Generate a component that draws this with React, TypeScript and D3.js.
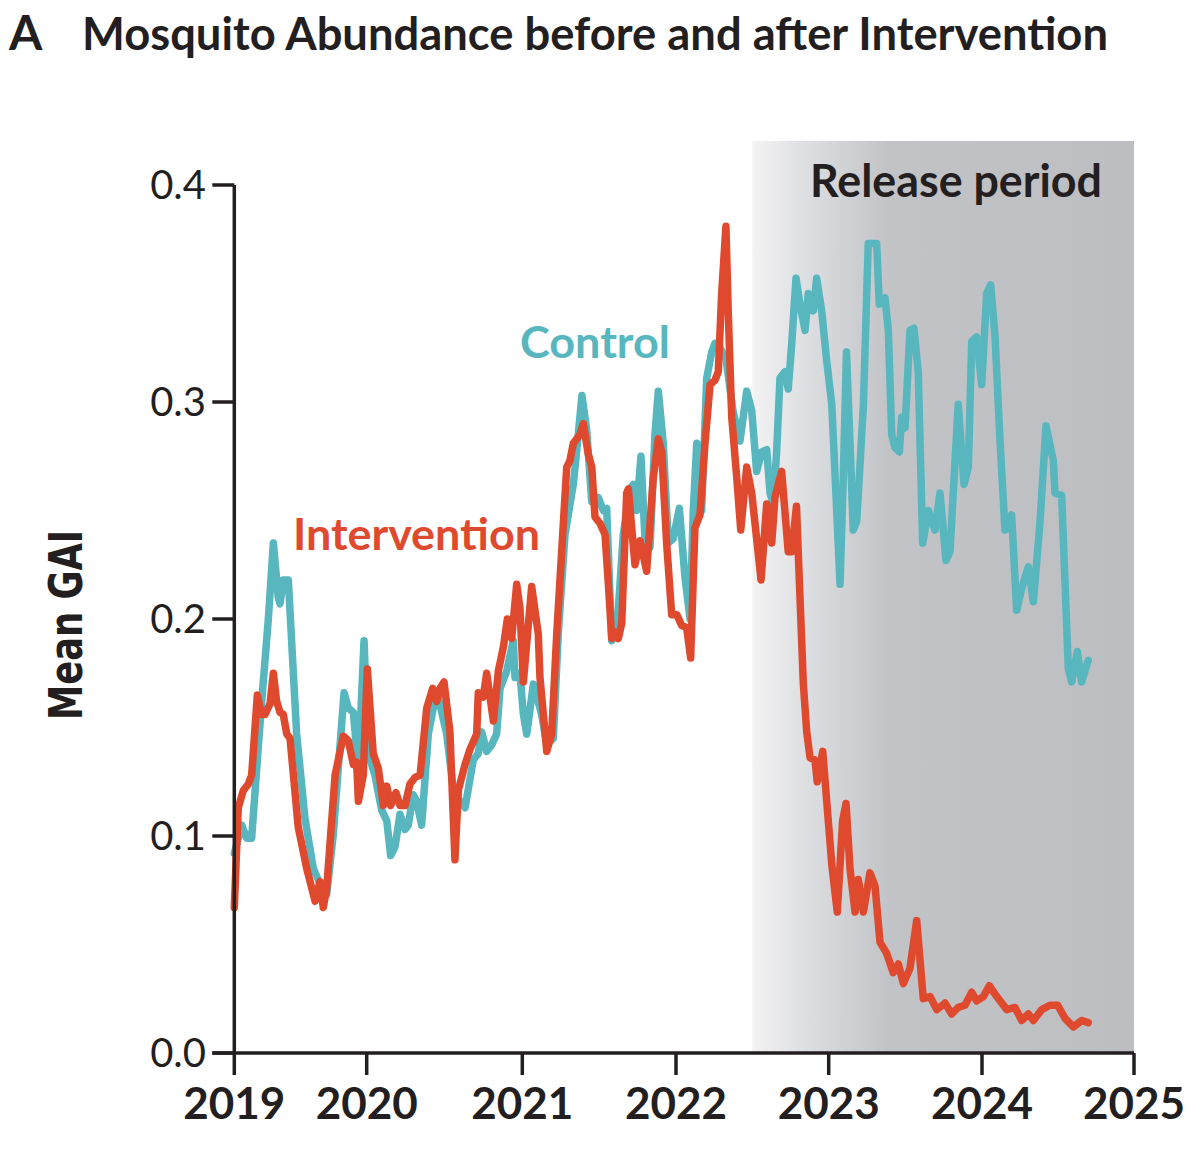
import { useMemo } from 'react';
import * as d3 from 'd3';

// Mean GAI per trap-week (decimal year, value)
const controlSeries: [number, number][] = [
  [2019.0, 0.092], [2019.056, 0.105], [2019.094, 0.099], [2019.131, 0.099], [2019.169, 0.131],
  [2019.207, 0.162], [2019.257, 0.2], [2019.295, 0.235], [2019.332, 0.21], [2019.345, 0.207],
  [2019.37, 0.218], [2019.408, 0.218], [2019.471, 0.147], [2019.534, 0.108], [2019.597, 0.085],
  [2019.647, 0.078], [2019.698, 0.073], [2019.748, 0.101], [2019.785, 0.131], [2019.829, 0.166],
  [2019.861, 0.159], [2019.899, 0.157], [2019.937, 0.131], [2019.98, 0.19], [2020.01, 0.138],
  [2020.053, 0.128], [2020.096, 0.112], [2020.129, 0.107], [2020.154, 0.091], [2020.182, 0.095],
  [2020.214, 0.11], [2020.246, 0.103], [2020.267, 0.105], [2020.299, 0.119], [2020.321, 0.116],
  [2020.353, 0.105], [2020.396, 0.147], [2020.428, 0.159], [2020.46, 0.164], [2020.514, 0.147],
  [2020.557, 0.121], [2020.6, 0.116], [2020.632, 0.113], [2020.685, 0.135], [2020.717, 0.138],
  [2020.739, 0.148], [2020.771, 0.139], [2020.803, 0.142], [2020.835, 0.147], [2020.857, 0.168],
  [2020.9, 0.176], [2020.942, 0.19], [2020.953, 0.173], [2020.985, 0.175], [2021.007, 0.156],
  [2021.029, 0.147], [2021.072, 0.17], [2021.126, 0.156], [2021.159, 0.142], [2021.202, 0.145],
  [2021.234, 0.193], [2021.278, 0.239], [2021.332, 0.262], [2021.364, 0.285], [2021.388, 0.303],
  [2021.419, 0.287], [2021.452, 0.254], [2021.494, 0.256], [2021.527, 0.25], [2021.549, 0.251],
  [2021.582, 0.19], [2021.614, 0.193], [2021.657, 0.239], [2021.701, 0.26], [2021.722, 0.262],
  [2021.744, 0.25], [2021.772, 0.275], [2021.798, 0.237], [2021.831, 0.233], [2021.863, 0.285],
  [2021.885, 0.305], [2021.917, 0.281], [2021.95, 0.235], [2021.982, 0.237], [2022.022, 0.251],
  [2022.059, 0.219], [2022.092, 0.2], [2022.113, 0.25], [2022.136, 0.281], [2022.168, 0.25],
  [2022.201, 0.311], [2022.234, 0.323], [2022.255, 0.327], [2022.288, 0.325], [2022.327, 0.32],
  [2022.373, 0.296], [2022.419, 0.282], [2022.463, 0.305], [2022.496, 0.296], [2022.528, 0.268],
  [2022.561, 0.277], [2022.594, 0.278], [2022.616, 0.258], [2022.637, 0.253], [2022.659, 0.277],
  [2022.681, 0.311], [2022.714, 0.314], [2022.735, 0.306], [2022.758, 0.327], [2022.786, 0.357],
  [2022.812, 0.345], [2022.845, 0.333], [2022.866, 0.35], [2022.899, 0.342], [2022.921, 0.357],
  [2022.954, 0.342], [2022.987, 0.319], [2023.02, 0.299], [2023.052, 0.25], [2023.074, 0.216],
  [2023.095, 0.265], [2023.116, 0.323], [2023.139, 0.281], [2023.16, 0.241], [2023.183, 0.245],
  [2023.226, 0.298], [2023.258, 0.373], [2023.291, 0.373], [2023.313, 0.373], [2023.33, 0.345],
  [2023.367, 0.348], [2023.389, 0.333], [2023.411, 0.285], [2023.432, 0.279], [2023.461, 0.277],
  [2023.476, 0.293], [2023.498, 0.288], [2023.53, 0.333], [2023.556, 0.334], [2023.584, 0.314],
  [2023.613, 0.235], [2023.65, 0.25], [2023.693, 0.241], [2023.726, 0.258], [2023.765, 0.227],
  [2023.791, 0.231], [2023.845, 0.299], [2023.883, 0.262], [2023.911, 0.27], [2023.933, 0.328],
  [2023.965, 0.33], [2023.998, 0.308], [2024.031, 0.35], [2024.057, 0.354], [2024.086, 0.33],
  [2024.118, 0.283], [2024.151, 0.241], [2024.173, 0.242], [2024.195, 0.248], [2024.228, 0.204],
  [2024.261, 0.214], [2024.305, 0.224], [2024.338, 0.208], [2024.382, 0.245], [2024.421, 0.289],
  [2024.469, 0.273], [2024.48, 0.258], [2024.524, 0.257], [2024.568, 0.177], [2024.59, 0.171],
  [2024.627, 0.185], [2024.656, 0.171], [2024.699, 0.181],
];

const interventionSeries: [number, number][] = [
  [2019.0, 0.067], [2019.03, 0.113], [2019.068, 0.121], [2019.106, 0.124], [2019.131, 0.128],
  [2019.174, 0.165], [2019.207, 0.156], [2019.232, 0.156], [2019.27, 0.161], [2019.295, 0.175],
  [2019.32, 0.162], [2019.345, 0.157], [2019.37, 0.156], [2019.396, 0.147], [2019.421, 0.145],
  [2019.483, 0.104], [2019.547, 0.085], [2019.61, 0.07], [2019.647, 0.079], [2019.672, 0.067],
  [2019.698, 0.076], [2019.761, 0.128], [2019.823, 0.146], [2019.861, 0.144], [2019.899, 0.133],
  [2019.924, 0.134], [2019.937, 0.116], [2019.974, 0.128], [2020.004, 0.177], [2020.042, 0.138],
  [2020.075, 0.131], [2020.107, 0.114], [2020.129, 0.123], [2020.154, 0.114], [2020.188, 0.12],
  [2020.214, 0.114], [2020.246, 0.114], [2020.278, 0.124], [2020.31, 0.127], [2020.343, 0.128],
  [2020.386, 0.159], [2020.424, 0.168], [2020.45, 0.162], [2020.471, 0.168], [2020.497, 0.171],
  [2020.535, 0.148], [2020.567, 0.089], [2020.589, 0.121], [2020.632, 0.133], [2020.664, 0.14],
  [2020.707, 0.147], [2020.717, 0.166], [2020.749, 0.164], [2020.771, 0.175], [2020.814, 0.153],
  [2020.846, 0.176], [2020.878, 0.187], [2020.904, 0.2], [2020.932, 0.191], [2020.964, 0.216],
  [2020.985, 0.205], [2021.007, 0.171], [2021.061, 0.215], [2021.104, 0.193], [2021.115, 0.173],
  [2021.159, 0.139], [2021.191, 0.147], [2021.224, 0.193], [2021.256, 0.231], [2021.289, 0.27],
  [2021.31, 0.273], [2021.332, 0.281], [2021.375, 0.285], [2021.397, 0.29], [2021.429, 0.276],
  [2021.452, 0.27], [2021.473, 0.247], [2021.506, 0.244], [2021.538, 0.239], [2021.56, 0.216],
  [2021.582, 0.191], [2021.603, 0.194], [2021.625, 0.191], [2021.647, 0.198], [2021.679, 0.258],
  [2021.69, 0.26], [2021.712, 0.242], [2021.733, 0.225], [2021.766, 0.236], [2021.809, 0.222],
  [2021.852, 0.265], [2021.885, 0.283], [2021.907, 0.277], [2021.939, 0.235], [2021.972, 0.202],
  [2022.005, 0.202], [2022.037, 0.197], [2022.07, 0.196], [2022.096, 0.182], [2022.124, 0.242],
  [2022.157, 0.248], [2022.19, 0.281], [2022.223, 0.308], [2022.255, 0.31], [2022.277, 0.314],
  [2022.299, 0.35], [2022.327, 0.381], [2022.342, 0.342], [2022.365, 0.293], [2022.398, 0.265],
  [2022.424, 0.241], [2022.463, 0.27], [2022.496, 0.258], [2022.528, 0.237], [2022.557, 0.218],
  [2022.594, 0.253], [2022.627, 0.235], [2022.648, 0.256], [2022.692, 0.268], [2022.735, 0.231],
  [2022.758, 0.231], [2022.789, 0.252], [2022.812, 0.21], [2022.834, 0.17], [2022.856, 0.148],
  [2022.878, 0.136], [2022.91, 0.135], [2022.925, 0.125], [2022.961, 0.139], [2022.987, 0.116],
  [2023.02, 0.087], [2023.056, 0.065], [2023.091, 0.107], [2023.113, 0.115], [2023.139, 0.085],
  [2023.172, 0.065], [2023.193, 0.08], [2023.226, 0.065], [2023.269, 0.083], [2023.302, 0.077],
  [2023.335, 0.051], [2023.378, 0.046], [2023.421, 0.037], [2023.454, 0.041], [2023.487, 0.032],
  [2023.53, 0.039], [2023.574, 0.061], [2023.617, 0.025], [2023.661, 0.026], [2023.705, 0.02],
  [2023.759, 0.023], [2023.802, 0.018], [2023.845, 0.021], [2023.889, 0.022], [2023.933, 0.028],
  [2023.965, 0.024], [2024.009, 0.026], [2024.048, 0.031], [2024.097, 0.026], [2024.163, 0.02],
  [2024.217, 0.021], [2024.261, 0.015], [2024.305, 0.018], [2024.338, 0.015], [2024.393, 0.02],
  [2024.447, 0.022], [2024.498, 0.022], [2024.546, 0.016], [2024.601, 0.012], [2024.656, 0.015],
  [2024.699, 0.014],
];

const xTicks = [2019, 2020, 2021, 2022, 2023, 2024, 2025];
// the printed year ticks are not evenly spaced; keep their pixel spacing
const xTickPositions = [234.3, 366.7, 522.3, 676, 828.7, 982, 1134];
const yTicks = [0, 0.1, 0.2, 0.3, 0.4];
const releaseStart = 2022.5;
const releaseEnd = 2025;

const INK = '#231f20';
const TEAL = '#58b6be';
const RED = '#df4a2f';
const FONT = 'Lato, "Open Sans", "DejaVu Sans", sans-serif';
const NARROW = '"Liberation Sans Narrow", "DejaVu Sans Condensed", "Roboto Condensed", sans-serif';

export default function App() {
  const width = 1200;
  const height = 1156;

  const x = useMemo(
    () => d3.scaleLinear().domain(xTicks).range(xTickPositions),
    []
  );
  const y = useMemo(() => d3.scaleLinear().domain([0, 0.4]).range([1053, 185]), []);

  const line = d3
    .line<[number, number]>()
    .x((d) => x(d[0]))
    .y((d) => y(d[1]));

  const axisLeft = x(2019);
  const axisBottom = y(0);

  return (
    <svg
      width={width}
      height={height}
      viewBox={`0 0 ${width} ${height}`}
      style={{ position: 'absolute', left: 0, top: 0, background: '#fff' }}
    >
      <defs>
        <linearGradient id="releaseFade" x1="0" x2="1" y1="0" y2="0">
          <stop offset="0%" stopColor="#f3f3f4" />
          <stop offset="15%" stopColor="#dcdde0" />
          <stop offset="36%" stopColor="#c2c3c7" />
          <stop offset="100%" stopColor="#bdbec2" />
        </linearGradient>
      </defs>

      {/* title */}
      <text x={9} y={50} fontFamily={FONT} fontWeight={700} fontSize={48} fill={INK}>
        A
      </text>
      <text
        x={82}
        y={50}
        fontFamily={FONT}
        fontWeight={700}
        fontSize={45}
        fill={INK}
        textLength={1026}
        lengthAdjust="spacingAndGlyphs"
      >
        Mosquito Abundance before and after Intervention
      </text>

      {/* release period shading */}
      <rect
        x={x(releaseStart)}
        y={141}
        width={x(releaseEnd) - x(releaseStart)}
        height={axisBottom - 141}
        fill="url(#releaseFade)"
      />
      <text
        x={810}
        y={197}
        fontFamily={FONT}
        fontWeight={700}
        fontSize={46}
        fill={INK}
        textLength={292}
        lengthAdjust="spacingAndGlyphs"
      >
        Release period
      </text>

      {/* series */}
      <path
        d={line(controlSeries) || ''}
        fill="none"
        stroke={TEAL}
        strokeWidth={7.5}
        strokeLinejoin="round"
        strokeLinecap="round"
      />
      <path
        d={line(interventionSeries) || ''}
        fill="none"
        stroke={RED}
        strokeWidth={7.5}
        strokeLinejoin="round"
        strokeLinecap="round"
      />

      {/* series labels */}
      <text
        x={520}
        y={358}
        fontFamily={FONT}
        fontWeight={700}
        fontSize={44}
        fill={TEAL}
        textLength={150}
        lengthAdjust="spacingAndGlyphs"
      >
        Control
      </text>
      <text
        x={293}
        y={550}
        fontFamily={FONT}
        fontWeight={700}
        fontSize={44}
        fill={RED}
        textLength={247}
        lengthAdjust="spacingAndGlyphs"
      >
        Intervention
      </text>

      {/* y axis */}
      <line x1={axisLeft} x2={axisLeft} y1={y(0.4)} y2={axisBottom} stroke={INK} strokeWidth={3.5} />
      {yTicks.map((t) => (
        <g key={t}>
          <line x1={axisLeft - 22} x2={axisLeft} y1={y(t)} y2={y(t)} stroke={INK} strokeWidth={3.5} />
          <text
            x={206}
            y={y(t) + 14}
            textAnchor="end"
            fontFamily={FONT}
            fontWeight={400}
            fontSize={40}
            fill={INK}
          >
            {d3.format('.1f')(t)}
          </text>
        </g>
      ))}
      <text
        transform={`translate(82, 625) rotate(-90)`}
        textAnchor="middle"
        fontFamily={NARROW}
        fontWeight={700}
        fontSize={46}
        fill={INK}
        textLength={190}
        lengthAdjust="spacingAndGlyphs"
      >
        Mean GAI
      </text>

      {/* x axis */}
      <line
        x1={axisLeft - 22}
        x2={x(2025)}
        y1={axisBottom}
        y2={axisBottom}
        stroke={INK}
        strokeWidth={3.5}
      />
      {xTicks.map((t) => (
        <g key={t}>
          <line x1={x(t)} x2={x(t)} y1={axisBottom} y2={axisBottom + 22} stroke={INK} strokeWidth={3.5} />
          <text
            x={x(t)}
            y={1119}
            textAnchor="middle"
            fontFamily={FONT}
            fontWeight={700}
            fontSize={44}
            fill={INK}
          >
            {t}
          </text>
        </g>
      ))}
    </svg>
  );
}
